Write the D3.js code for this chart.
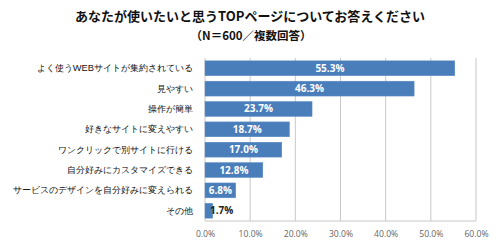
<!DOCTYPE html>
<html><head><meta charset="utf-8">
<script src="https://cdn.jsdelivr.net/npm/d3@7"></script>
<style>
html,body{margin:0;padding:0;background:#fff;}
svg{display:block;font-family:"Noto Sans CJK JP","Noto Sans",sans-serif;}
</style></head>
<body><svg id="c" width="500" height="246"></svg>
<script>
const titleLines = ["あなたが使いたいと思うTOPページについてお答えください", "（N＝600／複数回答）"];
const categories = ["よく使うWEBサイトが集約されている","見やすい","操作が簡単","好きなサイトに変えやすい","ワンクリックで別サイトに行ける","自分好みにカスタマイズできる","サービスのデザインを自分好みに変えられる","その他"];
const values = [55.3, 46.3, 23.7, 18.7, 17.0, 12.8, 6.8, 1.7];
const ticks = [0, 10, 20, 30, 40, 50, 60];

const svg = d3.select("#c");
const x = d3.scaleLinear().domain([0, 60]).range([205, 476]);
const y = d3.scaleBand().domain(categories).range([58, 221]).paddingInner(0.27).paddingOuter(0.14);

// gridlines
svg.append("g").selectAll("line").data(ticks).join("line")
  .attr("x1", d => x(d)).attr("x2", d => x(d))
  .attr("y1", 58).attr("y2", 221)
  .attr("stroke", "#c8c8c8").attr("stroke-width", 1);
svg.append("line").attr("x1", x(0)).attr("x2", x(60)).attr("y1", 221).attr("y2", 221)
  .attr("stroke", "#c8c8c8");

// x axis
const xa = svg.append("g").attr("transform", "translate(0,221)")
  .call(d3.axisBottom(x).tickValues(ticks).tickFormat(d => d.toFixed(1) + "%").tickSize(0).tickPadding(10));
xa.select(".domain").remove();
xa.selectAll("text").attr("font-size", "8.6px").attr("fill", "#666")
  .attr("font-family", "'Open Sans','Noto Sans',sans-serif");

// y axis labels
const ya = svg.append("g").attr("transform", `translate(${x(0)},0)`)
  .call(d3.axisLeft(y).tickSize(0).tickPadding(12));
ya.select(".domain").remove();
ya.selectAll("text").attr("font-size", "9.3px").attr("font-weight", "500").attr("fill", "#111");

// bars
svg.append("g").selectAll("rect").data(values).join("rect")
  .attr("x", x(0)).attr("y", (d, i) => y(categories[i]))
  .attr("width", d => x(d) - x(0)).attr("height", y.bandwidth())
  .attr("fill", "#4a7ebb").attr("stroke", "#5b8cc6").attr("stroke-width", 0.5);

// value labels
svg.append("g").selectAll("text").data(values).join("text")
  .attr("x", d => d < 5 ? x(0) + 5 : (x(0) + x(d)) / 2)
  .attr("y", (d, i) => y(categories[i]) + y.bandwidth() / 2)
  .attr("dy", "0.35em")
  .attr("text-anchor", d => d < 5 ? "start" : "middle")
  .attr("font-size", "10px").attr("font-weight", "bold")
  .attr("font-family", "'Open Sans','Noto Sans',sans-serif")
  .attr("fill", d => d < 5 ? "#222" : "#fff")
  .text(d => d.toFixed(1) + "%");

// title
svg.append("text").attr("x", 250).attr("y", 21).attr("text-anchor", "middle")
  .attr("font-size", "13px").attr("font-weight", "bold").attr("fill", "#111")
  .text(titleLines[0]);
svg.append("text").attr("x", 251).attr("y", 39.5).attr("text-anchor", "middle")
  .attr("font-size", "11.5px").attr("font-weight", "bold").attr("fill", "#111")
  .text(titleLines[1]);
</script></body></html>
